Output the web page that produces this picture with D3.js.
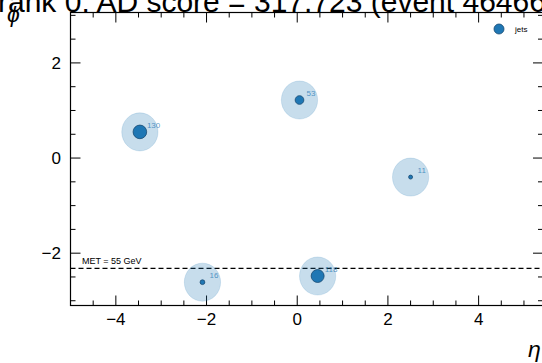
<!DOCTYPE html>
<html>
<head>
<meta charset="utf-8">
<script src="https://cdn.jsdelivr.net/npm/d3@7"></script>
<style>
  body { margin: 0; background: #fff; overflow: hidden; }
  svg { display: block; font-family: "Liberation Sans", Arial, sans-serif; }
</style>
</head>
<body>
<script>
// jets: eta, phi, pT
const jetEta = [-3.47, 0.05, 2.5, -2.09, 0.45]
const jetPhi = [0.55, 1.22, -0.4, -2.61, -2.48]
const jetPt = [130, 53, 11, 16, 118]
const metPhi = -2.32
const metLabel = 'MET = 55 GeV'
const xTicks = [-4, -2, 0, 2, 4]
const yTicks = [-2, 0, 2]
const titleText = 'rank 0: AD score = 317.723 (event 464666)'

const w = 542
const h = 363
const pL = 70.5, pR = 543, pT = 12.5, pB = 305.5

const x = d3.scaleLinear().domain([-5, 5.42]).range([pL, pR])
const y = d3.scaleLinear().domain([-3.1, 3.06]).range([pB, pT])
const rSize = d3.scaleSqrt().domain([0, 130]).range([0, 6.8])

const svg = d3.select('body').append('svg')
    .attr('width', w)
    .attr('height', h)

// title, its top is cut off like in the original
svg.append('text')
    .attr('x', -2)
    .attr('y', 12)
    .style('font-size', '30px')
    .text(titleText)

// frame
svg.append('rect')
    .attr('x', pL).attr('y', pT)
    .attr('width', pR - pL).attr('height', pB - pT)
    .style('fill', 'none').style('stroke', '#000').style('stroke-width', 1.2)

// ticks, pointing inwards on all four sides
const xMinor = d3.range(-5, 5.5, 0.5)
const yMinor = d3.range(-3, 3.5, 0.5)
const tk = svg.append('g').style('stroke', '#000').style('stroke-width', 1)
xMinor.forEach(v => {
    const len = Number.isInteger(v / 2) ? 10 : 5
    tk.append('line').attr('x1', x(v)).attr('x2', x(v)).attr('y1', pB).attr('y2', pB - len)
    tk.append('line').attr('x1', x(v)).attr('x2', x(v)).attr('y1', pT).attr('y2', pT + len)
})
yMinor.forEach(v => {
    const len = Number.isInteger(v / 2) ? 10 : 5
    tk.append('line').attr('y1', y(v)).attr('y2', y(v)).attr('x1', pL).attr('x2', pL + len)
    tk.append('line').attr('y1', y(v)).attr('y2', y(v)).attr('x1', pR).attr('x2', pR - len)
})

// tick labels
const fmt = d => d < 0 ? '\u2212' + Math.abs(d) : String(d)
svg.selectAll('.xl').data(xTicks).enter().append('text')
    .attr('x', d => x(d))
    .attr('y', 325)
    .attr('text-anchor', 'middle')
    .style('font-size', '17px')
    .text(fmt)
svg.selectAll('.yl').data(yTicks).enter().append('text')
    .attr('x', 61)
    .attr('y', d => y(d) + 6)
    .attr('text-anchor', 'end')
    .style('font-size', '17px')
    .text(fmt)

// axis labels
svg.append('text')
    .attr('x', 7).attr('y', 22)
    .style('font-size', '23px').style('font-style', 'italic')
    .text('\u03d5')
svg.append('text')
    .attr('x', 528).attr('y', 357)
    .style('font-size', '23px').style('font-style', 'italic')
    .text('\u03b7')

// MET line
svg.append('line')
    .attr('x1', pL).attr('x2', pR)
    .attr('y1', y(metPhi)).attr('y2', y(metPhi))
    .style('stroke', '#000').style('stroke-width', 1.3)
    .style('stroke-dasharray', '5,3')
svg.append('text')
    .attr('x', 82).attr('y', y(metPhi) - 4)
    .style('font-size', '9px')
    .text(metLabel)

const jets = jetEta.map((e, i) => ({ eta: e, phi: jetPhi[i], pt: jetPt[i] }))

// jet cones, R = 0.4
svg.selectAll('.cone').data(jets).enter().append('ellipse')
    .attr('cx', d => x(d.eta))
    .attr('cy', d => y(d.phi))
    .attr('rx', x(0.4) - x(0))
    .attr('ry', y(0) - y(0.4))
    .style('fill', '#1f77b4').style('fill-opacity', 0.25)
    .style('stroke', '#1f77b4').style('stroke-opacity', 0.15)

// jet markers sized by pT
svg.selectAll('.jet').data(jets).enter().append('circle')
    .attr('cx', d => x(d.eta))
    .attr('cy', d => y(d.phi))
    .attr('r', d => rSize(d.pt))
    .style('fill', '#1f77b4')
    .style('stroke', '#184a72').style('stroke-width', 0.8)

// pT labels
svg.selectAll('.ptl').data(jets).enter().append('text')
    .attr('x', d => x(d.eta) + 7)
    .attr('y', d => y(d.phi) - 4)
    .style('font-size', '8px')
    .style('fill', '#1f77b4').style('fill-opacity', 0.75)
    .text(d => d.pt)

// legend
svg.append('circle')
    .attr('cx', 499).attr('cy', 29).attr('r', 5)
    .style('fill', '#1f77b4').style('stroke', '#184a72').style('stroke-width', 0.8)
svg.append('text')
    .attr('x', 515).attr('y', 32)
    .style('font-size', '8px')
    .text('jets')
</script>
</body>
</html>
